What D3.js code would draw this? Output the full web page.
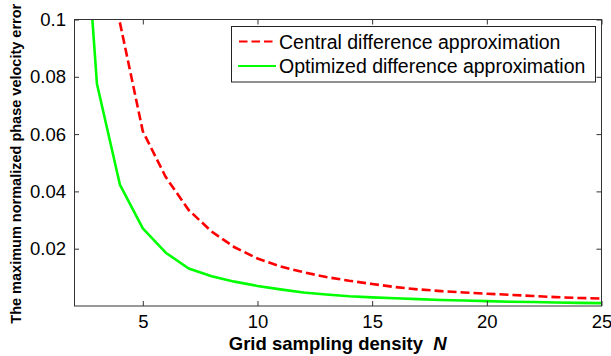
<!DOCTYPE html>
<html><head><meta charset="utf-8">
<script src="https://cdn.jsdelivr.net/npm/d3@7"></script>
<style>
html,body{margin:0;padding:0;background:#fff;}
svg{display:block;font-family:"Liberation Sans",Arial,sans-serif;}
</style></head>
<body><svg id="c" width="611" height="356"></svg>
<script>
const centralN   = [4,5,6,7,8,9,10,11,12,13,14,15,16,17,18,19,20,21,22,23,24,25];
const centralErr = [0.099,0.061,0.045,0.0335,0.026,0.0205,0.0166,0.0138,0.0118,0.0101,0.0088,0.0077,0.0066,0.0058,0.0052,0.0047,0.0043,0.0039,0.0035,0.0031,0.0028,0.0026];
const optimizedN   = [2,3,4,5,6,7,8,9,10,11,12,13,14,15,16,17,18,19,20,21,22,23,24,25];
const optimizedErr = [0.19,0.0776,0.0424,0.0271,0.0186,0.0131,0.0104,0.0085,0.0070,0.0058,0.0047,0.0040,0.0034,0.0030,0.0027,0.0024,0.0021,0.0019,0.0017,0.0015,0.0014,0.0012,0.0011,0.0010];
const xTicks = [5,10,15,20,25];
const yTicks = [0.02,0.04,0.06,0.08,0.1];
const yTickLabels = ["0.02","0.04","0.06","0.08","0.1"];
const seriesNames = ["Central difference approximation","Optimized difference approximation"];
const xTitle = "Grid sampling density";
const xTitleVar = "N";
const yTitle = "The maximum normalized phase velocity error";

const L=74, R=601.5, T=19.5, B=306;
const svg = d3.select("#c");
const x = d3.scaleLinear().domain([2,25]).range([L,R]);
const y = d3.scaleLinear().domain([0,0.1]).range([B,T]);

svg.append("defs").append("clipPath").attr("id","clip")
  .append("rect").attr("x",L).attr("y",T).attr("width",R-L).attr("height",B-T);

const line = d3.line().x(d=>x(d[0])).y(d=>y(d[1]));
const cData = centralN.map((n,i)=>[n,centralErr[i]]);
const oData = optimizedN.map((n,i)=>[n,optimizedErr[i]]);

const g = svg.append("g").attr("clip-path","url(#clip)");
g.append("path").datum(oData).attr("d",line).attr("fill","none")
  .attr("stroke","#00ff00").attr("stroke-width",2.6).attr("stroke-linejoin","round");
g.append("path").datum(cData).attr("d",line).attr("fill","none")
  .attr("stroke","#ff0000").attr("stroke-width",2.6).attr("stroke-dasharray","9,4");

const axColor="#333";
function style(sel){
  sel.select(".domain").remove();
  sel.selectAll(".tick line").attr("stroke",axColor);
  sel.selectAll(".tick text").attr("fill","#000").style("font-size","18.5px")
    .style("font-family","'Liberation Sans',Arial,sans-serif");
}
svg.append("g").attr("transform",`translate(${L},0)`)
  .call(d3.axisLeft(y).tickValues(yTicks).tickSize(-5).tickPadding(8).tickFormat((d,i)=>yTickLabels[i]))
  .call(style);
svg.append("g").attr("transform",`translate(${R},0)`)
  .call(d3.axisRight(y).tickValues(yTicks).tickSize(-5).tickFormat(""))
  .call(style);
svg.append("g").attr("transform",`translate(0,${B})`)
  .call(d3.axisBottom(x).tickValues(xTicks).tickSize(-5).tickPadding(9))
  .call(style);
svg.append("g").attr("transform",`translate(0,${T})`)
  .call(d3.axisTop(x).tickValues(xTicks).tickSize(-5).tickFormat(""))
  .call(style);

svg.append("rect").attr("x",L+0.5).attr("y",T).attr("width",R-L-0.5).attr("height",B-T)
  .attr("fill","none").attr("stroke",axColor).attr("stroke-width",1);

// legend
const lg = svg.append("g");
lg.append("rect").attr("x",231.5).attr("y",26.5).attr("width",364).attr("height",55.5)
  .attr("fill","#fff").attr("stroke","#222").attr("stroke-width",1);
lg.append("line").attr("x1",239).attr("x2",276).attr("y1",41.5).attr("y2",41.5)
  .attr("stroke","#ff0000").attr("stroke-width",1.8).attr("stroke-dasharray","8.5,4");
lg.append("line").attr("x1",238).attr("x2",276).attr("y1",66).attr("y2",66)
  .attr("stroke","#00ff00").attr("stroke-width",1.8);
lg.append("text").attr("x",279).attr("y",48.5).style("font-size","19.5px").text(seriesNames[0]);
lg.append("text").attr("x",279).attr("y",73).style("font-size","19.5px").text(seriesNames[1]);

// titles
const xt = svg.append("text").attr("x",(L+R)/2).attr("y",349.5).attr("text-anchor","middle")
  .style("font-size","18.5px").style("font-weight","bold");
xt.append("tspan").text(xTitle+"\u00a0\u00a0");
xt.append("tspan").style("font-style","italic").text(xTitleVar);

svg.append("text").attr("transform",`translate(21,${(T+B)/2+1}) rotate(-90)`)
  .attr("text-anchor","middle").style("font-size","14.5px").style("font-weight","bold")
  .text(yTitle);
</script></body></html>
